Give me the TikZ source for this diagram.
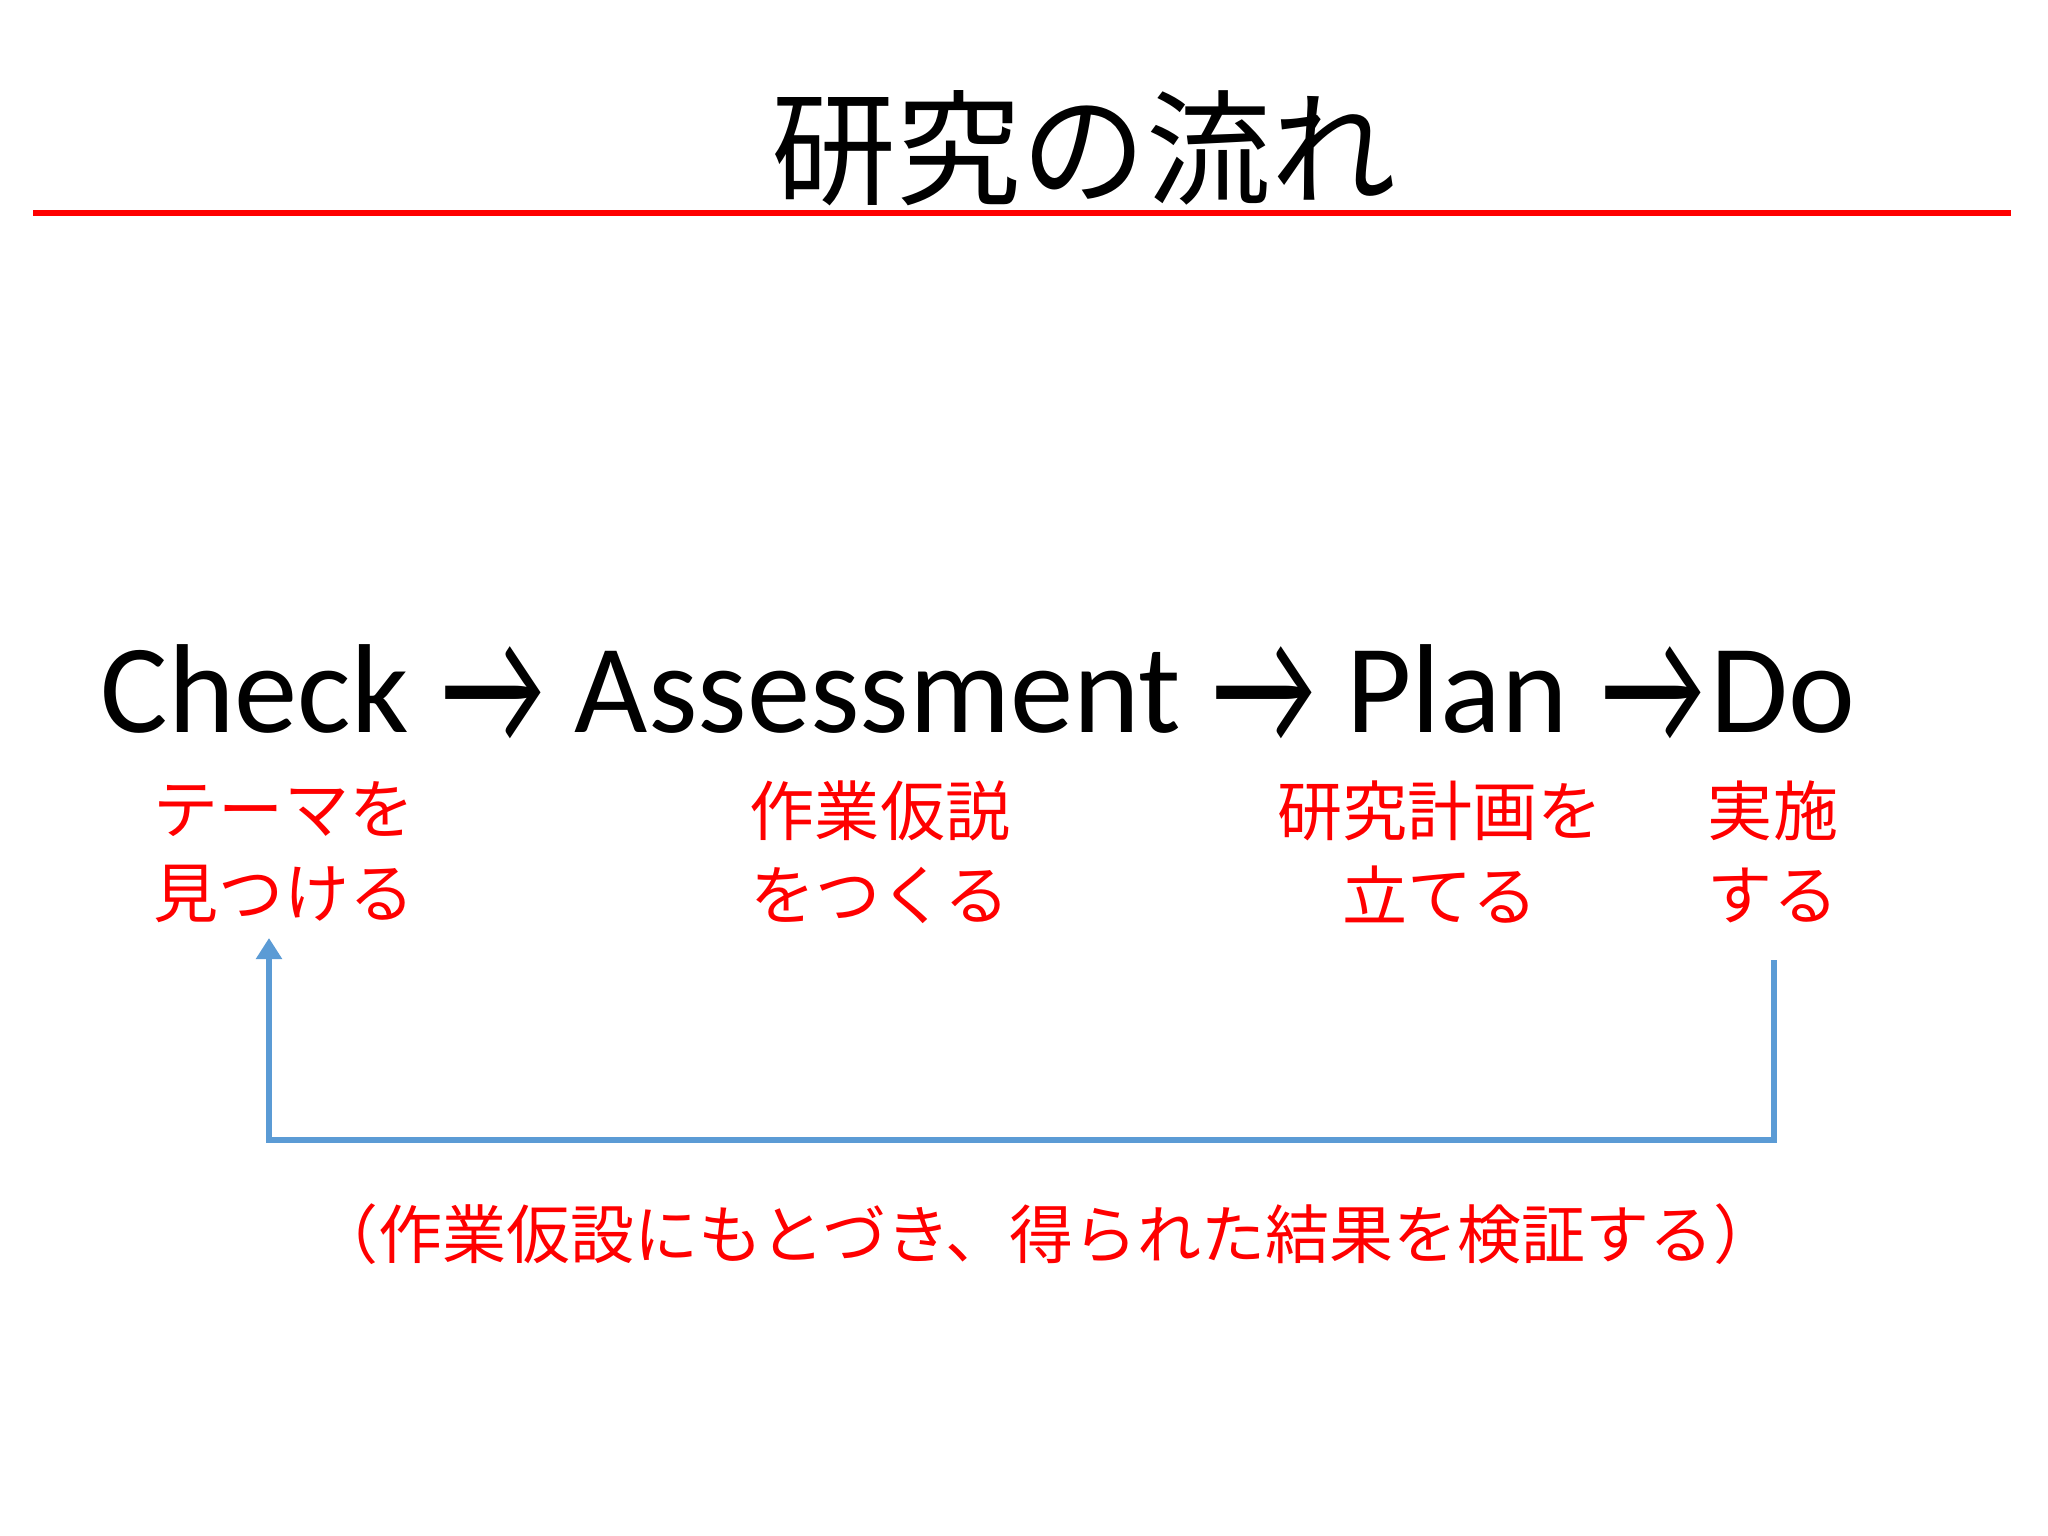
\documentclass[tikz,border=0pt]{standalone}
\usepackage{graphicx}
\usepackage{fontspec}
\setmainfont{Carlito}
\newfontfamily\jp{Noto Sans CJK JP}
\usetikzlibrary{arrows.meta}
\definecolor{slidered}{HTML}{FF0000}
\definecolor{loopblue}{HTML}{5B9BD5}
\newcommand{\tallarrow}{\scalebox{0.9}[1.35]{→}}
\tikzset{
  titletext/.style={inner sep=0pt, font=\jp\fontsize{35.5}{40}\selectfont},
  stagetext/.style={inner sep=0pt, anchor=base, font=\fontsize{36}{40}\selectfont},
  arrowtext/.style={inner sep=0pt, anchor=center, font=\fontsize{36}{40}\selectfont},
  notetext/.style={inner sep=0pt, align=center, text=slidered, font=\jp\fontsize{18.5}{24}\selectfont},
  backarrow/.style={draw=loopblue, line width=1.5pt, -{Triangle[length=2.1mm,width=2.5mm]}}
}
\begin{document}
\begin{tikzpicture}[x=0.01cm,y=-0.01cm]
\useasboundingbox [fill=white] (0,0) rectangle (2048,1536);
% title
\node [titletext] (title) at (1084,148) {研究の流れ};
\draw [slidered, line width=1.7pt] (33,213) -- (2011,213);
% stages
\node [stagetext] (check) at (255,732) {Check};
\node [arrowtext] (arrA) at (493,696) {\tallarrow};
\node [stagetext] (assess) at (878,732) {Assessment};
\node [arrowtext] (arrB) at (1264,696) {\tallarrow};
\node [stagetext] (plan) at (1457,732) {Plan};
\node [arrowtext] (arrC) at (1653,696) {\tallarrow};
\node [stagetext] (do) at (1783,732) {Do};
% red notes
\node [notetext] (checklab) at (284,852) {テーマを\\見つける};
\node [notetext] (assesslab) at (880,852) {作業仮説\\をつくる};
\node [notetext] (planlab) at (1440,852) {研究計画を\\立てる};
\node [notetext] (dolab) at (1773,852) {実施\\する};
% feedback loop
\coordinate (backR) at (1774,960);
\coordinate (backL) at (269,938);
\draw [backarrow] (backR) -- ++(0,180) -| (backL);
\node [notetext, font=\jp\fontsize{18.2}{24}\selectfont] (backlab) at (1046,1234) {（作業仮設にもとづき、得られた結果を検証する）};
\end{tikzpicture}
\end{document}
